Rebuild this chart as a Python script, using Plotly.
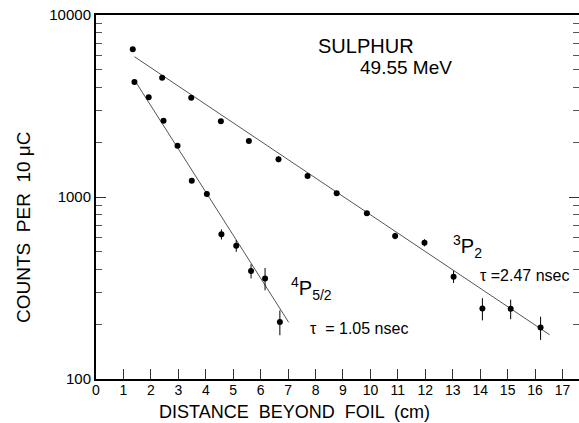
import plotly.graph_objects as go

# ---- data ----
x_3p2 = [1.34, 2.41, 3.47, 4.55, 5.57, 6.65, 7.71, 8.77, 9.87, 10.9, 11.97, 13.03, 14.08, 15.11, 16.2]
y_3p2 = [6480, 4525, 3515, 2606, 2030, 1611, 1304, 1047, 813, 611, 561, 365, 244, 243, 192]
e_3p2 = [60, 50, 60, 50, 40, 60, 35, 30, 20, 25, 25, 28, 34, 30, 28]

x_4p = [1.40, 1.92, 2.46, 2.97, 3.49, 4.04, 4.57, 5.11, 5.65, 6.16, 6.70]
y_4p = [4285, 3530, 2623, 1913, 1230, 1039, 624, 540, 392, 357, 206]
e_4p = [60, 40, 60, 30, 25, 40, 40, 40, 35, 50, 32]

fit_x_3p2 = [1.40, 16.53]
fit_y_3p2 = [5900, 175]
fit_x_4p = [1.40, 7.02]
fit_y_4p = [4400, 205]

x_ticks = list(range(0, 18))
x_ticktext = [str(v) for v in x_ticks]
y_ticks = [100, 1000, 10000]
y_ticktext = ["100", "1000", "10000"]
y_minor = [200, 300, 400, 500, 600, 700, 800, 900,
           2000, 3000, 4000, 5000, 6000, 7000, 8000, 9000]

FONT = "Liberation Sans"

fig = go.Figure()

for fx, fy in [(fit_x_3p2, fit_y_3p2), (fit_x_4p, fit_y_4p)]:
    fig.add_trace(go.Scatter(x=fx, y=fy, mode="lines",
                             line=dict(color="#555555", width=1),
                             showlegend=False, hoverinfo="skip"))

for xs, ys, es in [(x_3p2, y_3p2, e_3p2), (x_4p, y_4p, e_4p)]:
    fig.add_trace(go.Scatter(x=xs, y=ys, mode="markers",
                             marker=dict(color="black", size=6),
                             error_y=dict(type="data", array=es, visible=True,
                                          color="black", thickness=1, width=0),
                             showlegend=False))

fig.update_layout(
    width=579, height=423,
    margin=dict(l=96, r=0, t=15, b=44),
    paper_bgcolor="white", plot_bgcolor="white",
    font=dict(family=FONT, color="black"),
    xaxis=dict(range=[0, 17.6], tickmode="array", tickvals=x_ticks, ticktext=x_ticktext,
               ticks="inside", ticklen=10, tickwidth=1, tickcolor="#333",
               showline=True, linecolor="black", linewidth=2, mirror=True,
               automargin=False, ticklabelstandoff=-3,
               showgrid=False, zeroline=False, tickfont=dict(size=14, family=FONT)),
    yaxis=dict(type="log", range=[2, 4], tickmode="array", tickvals=y_ticks, ticktext=y_ticktext,
               ticks="inside", ticklen=10, tickwidth=1, tickcolor="#333",
               minor=dict(tickmode="array", tickvals=y_minor, ticks="inside", ticklen=6,
                          tickwidth=1, tickcolor="#555", showgrid=False),
               showline=True, linecolor="black", linewidth=2, mirror="allticks",
               automargin=False,
               showgrid=False, zeroline=False, tickfont=dict(size=15, family=FONT)),
)

ann = [
    dict(x=9.85, y=3.83, text="SULPHUR", size=20, xanchor="center"),
    dict(x=11.3, y=3.714, text="49.55 MeV", size=19, xanchor="center"),
    dict(x=12.95, y=2.73, text="<sup>3</sup>P<sub>2</sub>", size=20, xanchor="left"),
    dict(x=13.93, y=2.566, text="τ =2.47 nsec", size=16, xanchor="left"),
    dict(x=7.05, y=2.50, text="<sup>4</sup>P<sub>5/2</sub>", size=20, xanchor="left"),
    dict(x=7.73, y=2.275, text="τ  = 1.05 nsec", size=16, xanchor="left"),
]
for a in ann:
    fig.add_annotation(xref="x", yref="y", showarrow=False, yanchor="middle",
                       font=dict(family=FONT, color="black", size=a["size"]),
                       x=a["x"], y=a["y"], text=a["text"], xanchor=a["xanchor"])

fig.add_annotation(xref="paper", yref="paper", x=0.41, y=-0.091, showarrow=False,
                   text="DISTANCE  BEYOND  FOIL  (cm)", font=dict(size=18, family=FONT),
                   xanchor="center", yanchor="middle")
fig.add_annotation(xref="paper", yref="paper", x=-0.149, y=0.415, showarrow=False,
                   text="COUNTS  PER  10 μC", textangle=-90, font=dict(size=19, family=FONT),
                   xanchor="center", yanchor="middle")

fig.write_html("out.html", config={"displayModeBar": False},
               post_script="document.body.style.margin='0';document.body.style.overflow='hidden';")
